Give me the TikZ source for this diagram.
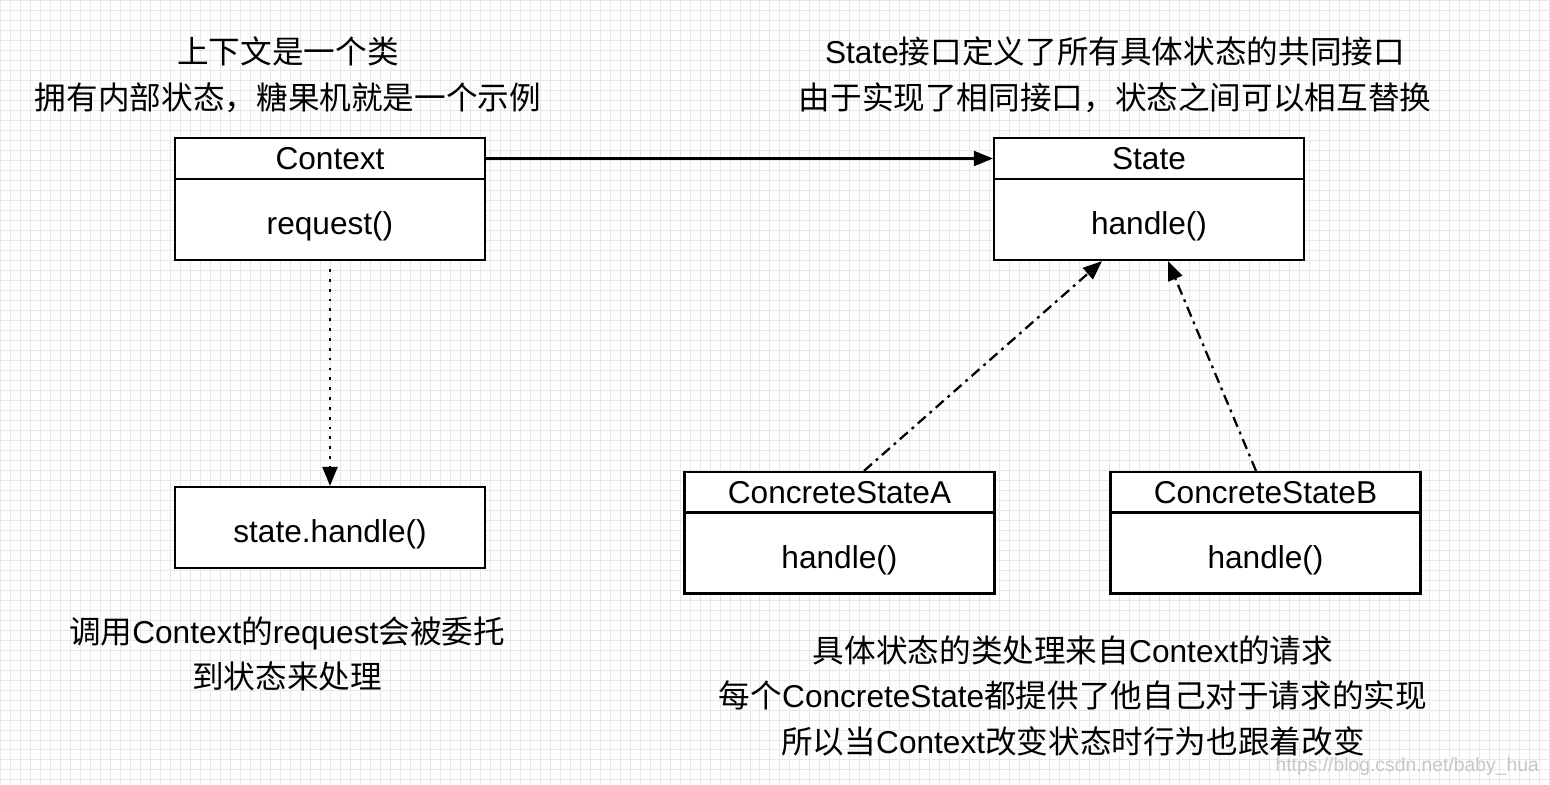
\documentclass[tikz,border=0pt]{standalone}
\usepackage{fontspec}
\setmainfont{Liberation Sans}
\newfontfamily\cjk{Noto Sans CJK SC}
\usetikzlibrary{arrows.meta,calc}

\begin{document}
\begin{tikzpicture}[
  x=0.02cm, y=-0.02cm,
  >={Triangle[length=0.38cm,width=0.3cm]},
  cls/.style={draw=black, line width=1.3pt, fill=white, inner sep=0pt,
    minimum width=6.2cm, font=\fontsize{18}{22}\selectfont},
  head/.style={cls, minimum height=0.82cm},
  body/.style={cls, minimum height=1.62cm, text height=0.62cm, text depth=0.02cm},
  note/.style={align=center, font=\fontsize{18}{26}\selectfont},
  arr/.style={->, line width=1.3pt},
  dots/.style={dash pattern=on 1.6pt off 4pt},
  dashdot/.style={dash pattern=on 6pt off 3pt on 1.6pt off 3pt}
]
\useasboundingbox (0,0) rectangle (1550,784);
\fill[white] (0,0) rectangle (1550,784);
\draw[black!9, line width=0.4pt, step=0.2cm] (0,0) grid (1550,784);

% classes
\node[head] (ctxhead) at (330,158.5) {Context};
\node[body] (ctxbody) at (330,219.5) {request()};
\node[head] (sthead) at (1149,158.5) {State};
\node[body] (stbody) at (1149,219.5) {handle()};
\node[body] (call) at (330,527.5) {state.handle()};
\node[head] (ahead) at (839.5,492.5) {ConcreteStateA};
\node[body] (abody) at (839.5,553) {handle()};
\node[head] (bhead) at (1265.5,492.5) {ConcreteStateB};
\node[body] (bbody) at (1265.5,553) {handle()};

% notes
\node[note] (ctxnote) at (288,75)
  {{\cjk 上下文是一个类}\\{\cjk 拥有内部状态，糖果机就是一个示例}};
\node[note] (stnote) at (1115,75)
  {State{\cjk 接口定义了所有具体状态的共同接口}\\{\cjk 由于实现了相同接口，状态之间可以相互替换}};
\node[note] (callnote) at (287,654)
  {{\cjk 调用}Context{\cjk 的}request{\cjk 会被委托}\\{\cjk 到状态来处理}};
\node[note] (concnote) at (1073,696)
  {{\cjk 具体状态的类处理来自}Context{\cjk 的请求}\\
   {\cjk 每个}ConcreteState{\cjk 都提供了他自己对于请求的实现}\\
   {\cjk 所以当}Context{\cjk 改变状态时行为也跟着改变}};
\node[text=black!22, font=\fontsize{11}{13}\selectfont, anchor=east] (mark) at (1545,766)
  {https://blog.csdn.net/baby\_hua};

% connectors
\draw[arr] (ctxhead.east) -- (sthead.west);
\draw[arr, dots, shorten <=0.16cm] (ctxbody.south) -- (call.north);
\draw[arr, dashdot] ($(ahead.north)+(24.5,0)$) -- ($(stbody.south)+(-47,0)$);
\draw[arr, dashdot] ($(bhead.north)+(-9.5,0)$) -- ($(stbody.south)+(19,0)$);
\end{tikzpicture}
\end{document}
